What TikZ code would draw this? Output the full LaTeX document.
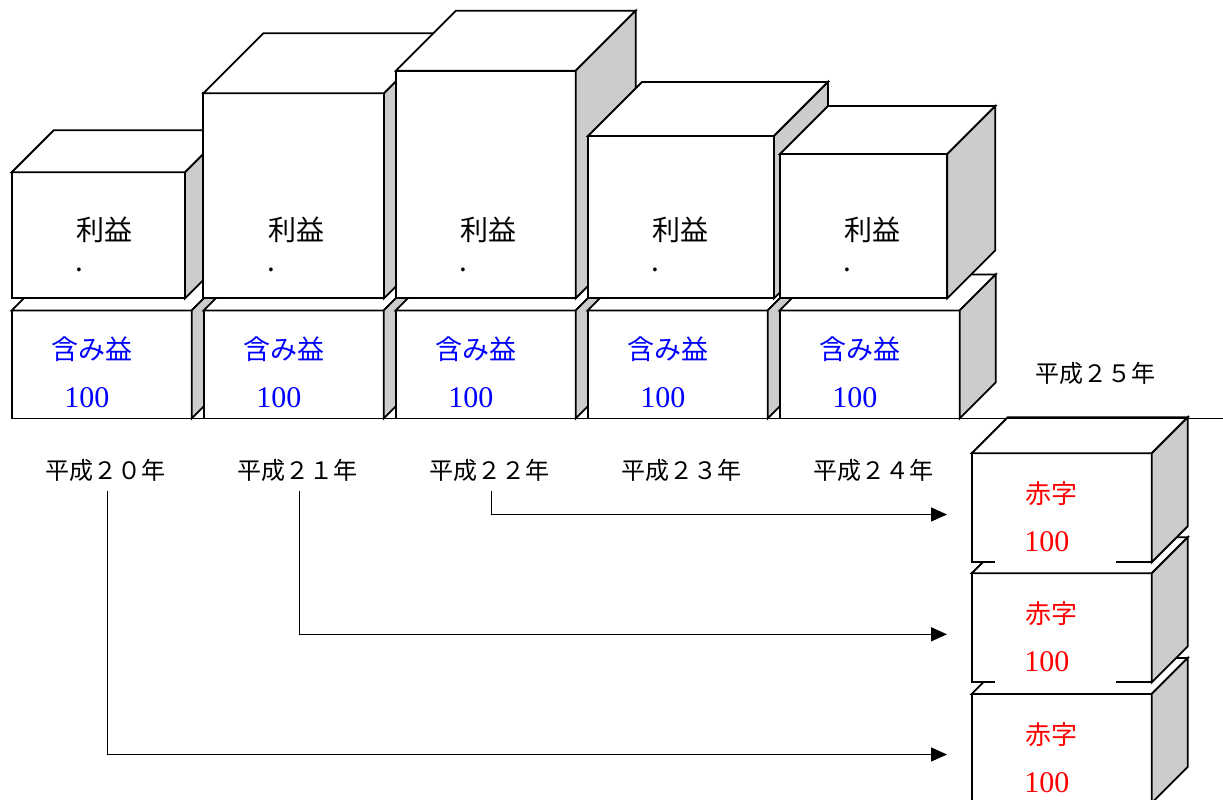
\documentclass[tikz,border=0pt]{standalone}
\usepackage{fontspec}
\setmainfont{Noto Sans CJK JP}
\newfontfamily\numfont{Liberation Serif}
\usetikzlibrary{arrows.meta}
\definecolor{sidegray}{HTML}{CCCCCC}
\tikzset{
  pics/hako/.style n args={3}{code={%
    \draw[line width=1.8pt,fill=white] (0,0) rectangle (#1,#2);
    \draw[line width=1.8pt,fill=white] (0,0) -- (#3,-#3) -- ({#1+#3},-#3) -- (#1,0) -- cycle;
    \draw[line width=1.8pt,fill=sidegray] (#1,0) -- ({#1+#3},-#3) -- ({#1+#3},{#2-#3}) -- (#1,#2) -- cycle;
  }},
  rieki/.style={inner sep=0pt,font=\fontsize{28}{34}\selectfont},
  fukumi/.style={inner sep=0pt,text=blue,font=\fontsize{27}{32}\selectfont},
  akaji/.style={inner sep=0pt,text=red,font=\fontsize{26}{32}\selectfont},
  hyaku/.style={anchor=base west,fill=white,text width=62.6pt,align=left,
    inner xsep=29.2pt,inner ysep=13pt,font=\numfont\fontsize{30}{34}\selectfont},
  nenlabel/.style={inner sep=2pt,font=\fontsize{24}{28}\selectfont},
  yajirushi/.style={line width=1.5pt,-{Triangle[length=16pt,width=14pt]}}
}
\begin{document}
\begin{tikzpicture}[x=1pt,y=-1pt]
\useasboundingbox (0,0) rectangle (1223,800);
\clip (0,0) rectangle (1223,800);

% five years: lower box, then upper box
\foreach \col/\bx/\by/\bw/\bd in {0/11.7/172.3/173.3/42, 1/203.3/93.3/180.7/60,
    2/396/70.7/179.7/60, 3/588/136/186/54, 4/780/154/167.3/48}{
  \pic at ({11.7+192*\col},310.5) {hako={180}{108}{36}};
  \pgfmathsetmacro\bh{298.3-\by}
  \pic at (\bx,\by) {hako={\bw}{\bh}{\bd}};
}

% red stack
\pic at (971.7,694) {hako={180}{109}{36}};
\pic at (971.7,573.3) {hako={180}{109}{36}};
\pic at (971.7,453.3) {hako={180}{109}{36}};

\foreach \col/\nn in {0/０,1/１,2/２,3/３,4/４}{
  \node[rieki] (rieki\col) at ({104.5+192*\col},230) {利益};
  \node[rieki] (ten\col) at ({79.3+192*\col},270) {.};
  \node[fukumi] (fukumi\col) at ({91.8+192*\col},349.5) {含み益};
  \node[hyaku,text=blue] (hyaku\col) at ({35+192*\col},407.5) {100};
  \node[nenlabel] (nen\col) at ({105+192*\col},470.7) {平成２{\nn}年};
}
\node[nenlabel] (nen5) at (1095.5,373.5) {平成２５年};

\foreach \row/\ry in {a/453.3,b/573.3,c/694}{
  \node[akaji] (akaji\row) at (1051.9,{\ry+40.8}) {赤字};
  \node[hyaku,text=red] (aka\row) at (995,{\ry+98.4}) {100};
}

\draw[line width=1.2pt] (11.7,418.7) -- (1223,418.7);

\coordinate (saki0) at (947,754.5);
\coordinate (saki1) at (947,634.3);
\coordinate (saki2) at (947,514.5);
\draw[yajirushi] ([shift={(2.5,7)}]nen0.south) |- (saki0);
\draw[yajirushi] ([shift={(2.5,7)}]nen1.south) |- (saki1);
\draw[yajirushi] ([shift={(2.5,7)}]nen2.south) |- (saki2);
\end{tikzpicture}
\end{document}
